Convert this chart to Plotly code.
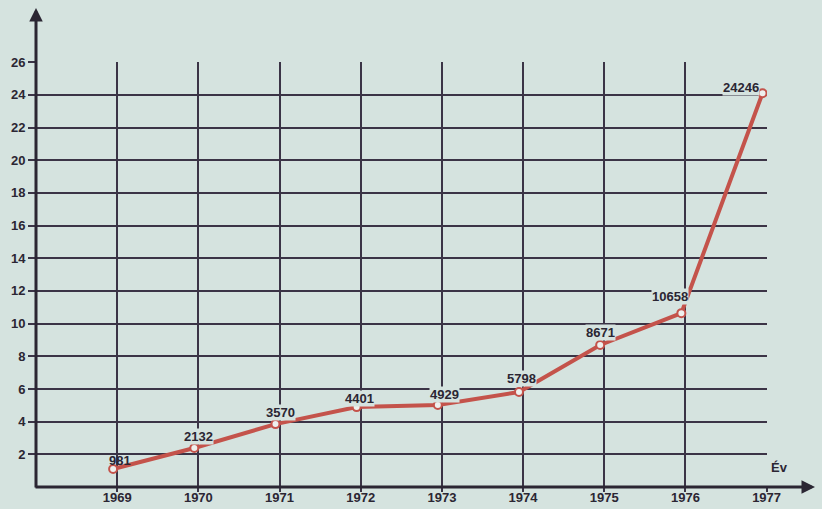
import plotly.graph_objects as go

# ---- data ----
years = [1969, 1970, 1971, 1972, 1973, 1974, 1975, 1976, 1977]
plotted_height = [1.10, 2.39, 3.85, 4.89, 5.02, 5.81, 8.69, 10.64, 24.1]   # thousands, as drawn
value_labels = ["981", "2132", "3570", "4401", "4929", "5798", "8671", "10658", "24246"]
y_ticks = [2, 4, 6, 8, 10, 12, 14, 16, 18, 20, 22, 24, 26]
x_axis_title = "Év"

# ---- style ----
BG = "#d5e3df"
INK = "#2b2633"
GRID = "#3b3446"
RED = "#c4534b"
FONT = "Liberation Sans"
label_shift = [(7, 9), (4, 11), (5, 12), (3, 9), (7, 10), (2, 14), (0, 13), (-11, 17), (-22, 6)]
label_bg = [False, True, True, True, True, True, True, True, True]

W, H = 822, 509
L, R, T, B = 36, 55, 62, 22
plot_w = W - L - R
plot_h = H - T - B

fig = go.Figure()
# carrier for the grid axis (no visible marks)
fig.add_trace(go.Scatter(
    x=years, y=[None] * len(years), xaxis="x", yaxis="y",
    mode="markers", hoverinfo="skip", showlegend=False,
))
fig.add_trace(go.Scatter(
    x=years, y=plotted_height, xaxis="x2", yaxis="y",
    mode="lines+markers",
    line=dict(color=RED, width=4),
    marker=dict(size=8, color="#eef0ee", line=dict(color=RED, width=2)),
    hoverinfo="skip", showlegend=False,
))

annotations = []
for yr, h, lab, (dx, dy), bg in zip(years, plotted_height, value_labels, label_shift, label_bg):
    annotations.append(dict(
        x=yr, y=h, xref="x2", yref="y", text=lab, showarrow=False,
        xshift=dx, yshift=dy, bgcolor=BG if bg else "rgba(0,0,0,0)", borderpad=0,
        font=dict(family=FONT, size=13, color=INK, weight="bold"),
    ))

# axis lines with arrows
x_tip = (815 - L) / plot_w
y_tip = (H - B - 8) / plot_h
annotations.append(dict(
    x=x_tip, y=0, xref="paper", yref="paper", text="", showarrow=True,
    ax=-(815 - L) - 2, ay=0, arrowhead=2, arrowsize=0.9, arrowwidth=3, arrowcolor=INK,
))
annotations.append(dict(
    x=0, y=y_tip, xref="paper", yref="paper", text="", showarrow=True,
    ax=0, ay=(H - B - 8) + 2, arrowhead=2, arrowsize=0.9, arrowwidth=3, arrowcolor=INK,
))
annotations.append(dict(
    x=(790 - L) / plot_w, y=(H - B - 477) / plot_h, xref="paper", yref="paper",
    text=x_axis_title, showarrow=False,
    font=dict(family=FONT, size=13, color=INK, weight="bold"),
))

fig.update_layout(
    width=W, height=H,
    margin=dict(l=L, r=R, t=T, b=B, pad=0, autoexpand=False),
    paper_bgcolor=BG, plot_bgcolor=BG,
    font=dict(family=FONT, size=13, color=INK),
    xaxis=dict(
        range=[1968, 1977.005], tickvals=years, ticktext=[str(y) for y in years],
        showgrid=True, gridcolor=GRID, gridwidth=2,
        ticks="outside", ticklen=4, tickwidth=2, tickcolor=GRID,
        ticklabelstandoff=-6,
        showline=False, zeroline=False, automargin=False,
        tickfont=dict(family=FONT, size=13, color=INK, weight="bold"),
    ),
    xaxis2=dict(
        range=[1968.05, 1977.055], overlaying="x", visible=False, showgrid=False,
        automargin=False,
    ),
    yaxis=dict(
        range=[0, 26.01], tickvals=y_ticks, ticktext=[str(v) for v in y_ticks],
        showgrid=True, gridcolor=GRID, gridwidth=2,
        ticks="outside", ticklen=7, tickwidth=2, tickcolor=GRID,
        showline=False, zeroline=False, automargin=False,
        tickfont=dict(family=FONT, size=13, color=INK, weight="bold"),
    ),
    annotations=annotations,
)

fig.write_html("out.html")
